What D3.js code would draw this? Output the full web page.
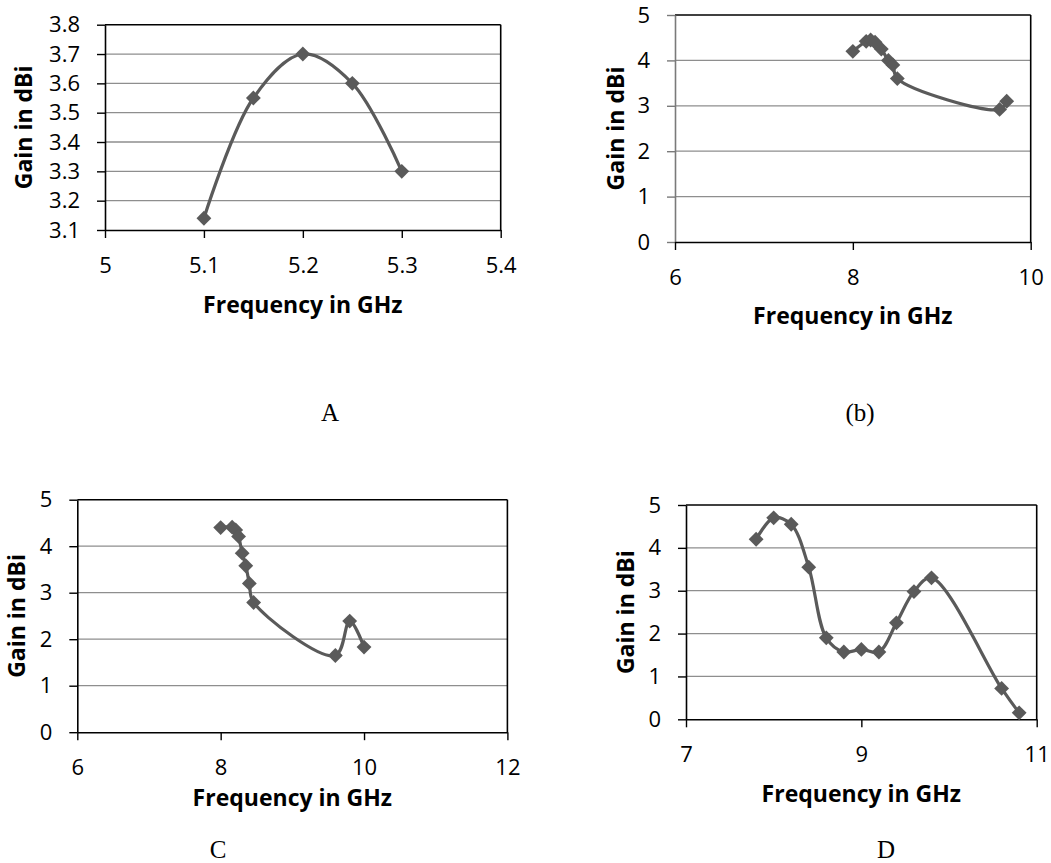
<!DOCTYPE html>
<html>
<head>
<meta charset="utf-8">
<script src="https://cdn.jsdelivr.net/npm/d3@7"></script>
<style>
  html, body { margin: 0; padding: 0; background: #fff; }
  svg { display: block; }
</style>
</head>
<body>
<script>
// ---- data ----
const freqA = [5.1, 5.15, 5.2, 5.25, 5.3];
const gainA = [3.14, 3.55, 3.7, 3.6, 3.3];
const xTicksA = [5, 5.1, 5.2, 5.3, 5.4];
const yTicksA = [3.1, 3.2, 3.3, 3.4, 3.5, 3.6, 3.7, 3.8];

const freqB = [8.0, 8.15, 8.2, 8.25, 8.32, 8.4, 8.45, 8.5, 9.65, 9.73];
const gainB = [4.2, 4.42, 4.45, 4.4, 4.25, 4.0, 3.9, 3.6, 2.92, 3.1];
const xTicksB = [6, 8, 10];
const yTicksB = [0, 1, 2, 3, 4, 5];

const freqC = [8.0, 8.16, 8.21, 8.25, 8.3, 8.35, 8.4, 8.46, 9.6, 9.8, 10.0];
const gainC = [4.4, 4.41, 4.35, 4.21, 3.85, 3.58, 3.2, 2.79, 1.65, 2.39, 1.83];
const xTicksC = [6, 8, 10, 12];
const yTicksC = [0, 1, 2, 3, 4, 5];

const freqD = [7.8, 8.0, 8.2, 8.4, 8.6, 8.8, 9.0, 9.2, 9.4, 9.6, 9.8, 10.6, 10.8];
const gainD = [4.2, 4.7, 4.55, 3.55, 1.9, 1.57, 1.63, 1.57, 2.25, 2.98, 3.3, 0.72, 0.15];
const xTicksD = [7, 9, 11];
const yTicksD = [0, 1, 2, 3, 4, 5];

const captions = ["A", "(b)", "C", "D"];
const xTitle = "Frequency in GHz";
const yTitle = "Gain in dBi";

// ---- layout ----
const W = 1051, H = 863;
const panels = [
  { freq: freqA, gain: gainA, xt: xTicksA, yt: yTicksA, box: { l: 105, r: 500.7, t: 24.7, b: 230 }, ytOff: 82, xtOff: 83, cap: [330, 412], yAxisColor: "#000" },
  { freq: freqB, gain: gainB, xt: xTicksB, yt: yTicksB, box: { l: 675, r: 1030.7, t: 15, b: 242 }, ytOff: 60, xtOff: 82, cap: [860, 412], yAxisColor: "#7a7a7a" },
  { freq: freqC, gain: gainC, xt: xTicksC, yt: yTicksC, box: { l: 77.3, r: 507.4, t: 499.7, b: 732.2 }, ytOff: 61, xtOff: 74, cap: [218, 849], yAxisColor: "#000" },
  { freq: freqD, gain: gainD, xt: xTicksD, yt: yTicksD, box: { l: 686, r: 1036.7, t: 505, b: 719.3 }, ytOff: 61, xtOff: 83, cap: [886, 849], yAxisColor: "#000" }
];

const svg = d3.select("body").append("svg").attr("width", W).attr("height", H);

const lineColor = "#5a5a5a";
const gridColor = "#8e8e8e";
const tickFont = "'Open Sans', 'Noto Sans', sans-serif";

panels.forEach((p, i) => {
  const bx = p.box;
  const x = d3.scaleLinear().domain(d3.extent(p.xt)).range([bx.l, bx.r]);
  const y = d3.scaleLinear().domain(d3.extent(p.yt)).range([bx.b, bx.t]);
  const g = svg.append("g");

  // gridlines
  g.append("g").selectAll("line").data(p.yt.slice(1, -1)).join("line")
    .attr("x1", bx.l).attr("x2", bx.r)
    .attr("y1", d => y(d)).attr("y2", d => y(d))
    .attr("stroke", gridColor).attr("stroke-width", 1.3);

  // plot border (top / right)
  g.append("line").attr("x1", bx.l).attr("x2", bx.r).attr("y1", bx.t).attr("y2", bx.t)
    .attr("stroke", "#000").attr("stroke-width", 1.6);
  g.append("line").attr("x1", bx.r).attr("x2", bx.r).attr("y1", bx.t).attr("y2", bx.b)
    .attr("stroke", "#000").attr("stroke-width", 1.6);

  const fmt = v => String(v);

  const ya = g.append("g").attr("transform", `translate(${bx.l},0)`)
    .call(d3.axisLeft(y).tickValues(p.yt).tickFormat(fmt).tickSize(8).tickPadding(17).tickSizeOuter(0));
  const xa = g.append("g").attr("transform", `translate(0,${bx.b})`)
    .call(d3.axisBottom(x).tickValues(p.xt).tickFormat(fmt).tickSize(8).tickPadding(19).tickSizeOuter(0));
  ya.select(".domain").attr("stroke", p.yAxisColor).attr("stroke-width", 1.6);
  ya.selectAll(".tick line").attr("stroke", p.yAxisColor).attr("stroke-width", 1.4);
  xa.select(".domain").attr("stroke", "#000").attr("stroke-width", 1.6);
  xa.selectAll(".tick line").attr("stroke", "#000").attr("stroke-width", 1.4);
  [ya, xa].forEach(a => {
    a.selectAll(".tick text").attr("fill", "#000")
      .style("font-family", tickFont).style("font-size", "22px");
  });

  // axis titles
  g.append("text")
    .attr("x", (bx.l + bx.r) / 2).attr("y", bx.b + p.xtOff)
    .attr("text-anchor", "middle")
    .style("font-family", tickFont).style("font-weight", "bold").style("font-size", "23px")
    .text(xTitle);
  g.append("text")
    .attr("transform", `translate(${bx.l - p.ytOff},${(bx.t + bx.b) / 2}) rotate(-90)`)
    .attr("text-anchor", "middle").attr("dominant-baseline", "central")
    .style("font-family", tickFont).style("font-weight", "bold").style("font-size", "23px")
    .text(yTitle);

  // series
  const pts = p.freq.map((f, k) => [f, p.gain[k]]);
  const line = d3.line().x(d => x(d[0])).y(d => y(d[1])).curve(d3.curveCatmullRom.alpha(0.5));
  g.append("path").datum(pts).attr("d", line)
    .attr("fill", "none").attr("stroke", lineColor).attr("stroke-width", 3.2)
    .attr("stroke-linejoin", "round");
  const sym = d3.symbol().type(d3.symbolSquare).size(110);
  g.append("g").selectAll("path").data(pts).join("path")
    .attr("d", sym)
    .attr("transform", d => `translate(${x(d[0])},${y(d[1])}) rotate(45)`)
    .attr("fill", lineColor);

  // caption
  svg.append("text").attr("x", p.cap[0]).attr("y", p.cap[1])
    .attr("text-anchor", "middle").attr("dominant-baseline", "central")
    .style("font-family", "'Liberation Serif', 'DejaVu Serif', serif").style("font-size", "25px")
    .text(captions[i]);
});
</script>
</body>
</html>
